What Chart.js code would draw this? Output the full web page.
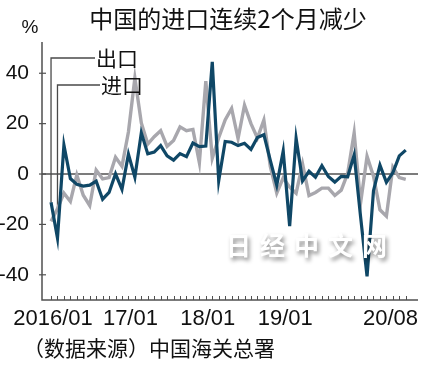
<!DOCTYPE html>
<html><head><meta charset="utf-8">
<script src="https://cdn.jsdelivr.net/npm/chart.js@4/dist/chart.umd.min.js"></script>
<style>html,body{margin:0;padding:0;background:#fff}#wrap{width:430px;height:370px;position:relative}</style>
</head><body><div id="wrap"><canvas id="c" width="430" height="370"></canvas></div>
<script>
const titleText = '中国的进口连续2个月减少';
const unitLabel = '%';
const sourceText = '（数据来源）中国海关总署';
const watermarkText = '日经中文网';
const seriesNames = ['出口', '进口'];

// categories: 2016/01 .. 2020/08
const months = [];
for (let y = 2016; y <= 2020; y++) {
  for (let m = 1; m <= 12; m++) {
    if (y === 2020 && m > 8) break;
    months.push(y + '/' + String(m).padStart(2, '0'));
  }
}

// 出口 (exports) YoY %
const exportsYoY = [
  -11.2, -25.4, 11.5, -1.8, -4.1, -4.8, -4.4, -2.8, -10.0, -7.3, 0.1, -6.1,
  7.9, -1.3, 16.4, 8.0, 8.7, 11.3, 7.2, 5.5, 8.1, 6.9, 12.3, 10.9,
  11.1, 44.5, -2.7, 12.9, 12.6, 11.3, 12.2, 9.8, 14.5, 15.6, 5.4, -4.4,
  9.1, -20.7, 14.2, -2.7, 1.1, -1.3, 3.3, -1.0, -3.2, -0.9, -1.1, 7.6,
  -17.0, -40.6, -6.6, 3.5, -3.3, 0.5, 7.2, 9.5
];
// 进口 (imports) YoY %
const importsYoY = [
  -18.8, -13.8, -7.6, -10.9, -0.4, -8.4, -12.5, 1.5, -1.9, -1.4, 6.7, 3.1,
  16.7, 38.1, 20.3, 11.9, 14.8, 17.2, 11.0, 13.3, 18.7, 17.2, 17.7, 4.5,
  36.9, 6.3, 14.4, 21.5, 26.0, 14.1, 27.3, 20.0, 14.3, 21.4, 3.0, -7.6,
  -1.5, -5.2, -7.6, 4.0, -8.5, -7.3, -5.6, -5.6, -8.5, -6.4, 0.3, 16.3,
  -11.5, 7.0, -0.9, -14.2, -16.7, 2.7, -1.4, -2.1
];

const yTicks = [-40, -20, 0, 20, 40];
const xTickIdx = [0, 12, 24, 36, 55];
const xTickLabels = ['2016/01', '17/01', '18/01', '19/01', '20/08'];

const NAVY = '#0f4766';
const GRAY = '#a8a7ad';
const AXIS = '#505050';
const NARROW = '"Liberation Sans Narrow", "Liberation Sans", Arial, sans-serif';
const CJK = '"Noto Sans CJK SC", "Noto Sans", sans-serif';

const extras = {
  id: 'extras',
  beforeDatasetsDraw(chart) {
    const ctx = chart.ctx;
    const { left, right, top, bottom } = chart.chartArea;
    const xs = chart.scales.x, ys = chart.scales.y;
    ctx.save();
    ctx.strokeStyle = AXIS;
    ctx.lineWidth = 1.5;
    // axes
    ctx.beginPath();
    ctx.moveTo(left, top); ctx.lineTo(left, bottom); ctx.lineTo(right, bottom);
    ctx.stroke();
    // zero line
    const y0 = ys.getPixelForValue(0);
    ctx.beginPath(); ctx.moveTo(left, y0); ctx.lineTo(right, y0); ctx.stroke();
    // y tick marks
    ctx.lineWidth = 1.2;
    yTicks.forEach(v => {
      const py = ys.getPixelForValue(v);
      ctx.beginPath(); ctx.moveTo(left - 3, py); ctx.lineTo(left + 4, py); ctx.stroke();
    });
    // monthly x tick marks
    ctx.lineWidth = 1;
    months.forEach((m, i) => {
      const px = Math.round(xs.getPixelForValue(i)) + 0.5;
      ctx.beginPath(); ctx.moveTo(px, bottom - 4); ctx.lineTo(px, bottom); ctx.stroke();
    });
    // leader lines for labels
    ctx.strokeStyle = '#4a4a4a';
    ctx.lineWidth = 1.3;
    const ex = xs.getPixelForValue(0), ey = ys.getPixelForValue(exportsYoY[0]);
    ctx.beginPath(); ctx.moveTo(ex, ey); ctx.lineTo(ex, top + 16); ctx.lineTo(left + 53, top + 16); ctx.stroke();
    const ix = xs.getPixelForValue(1), iy = ys.getPixelForValue(importsYoY[1]);
    ctx.beginPath(); ctx.moveTo(ix, iy); ctx.lineTo(ix, top + 43); ctx.lineTo(left + 58, top + 43); ctx.stroke();
    ctx.restore();
  },
  afterDraw(chart) {
    const ctx = chart.ctx;
    const { left, right, top, bottom } = chart.chartArea;
    const xs = chart.scales.x;
    ctx.save();
    ctx.fillStyle = '#111';
    ctx.textBaseline = 'middle';
    // title
    ctx.font = '24px ' + CJK;
    ctx.textAlign = 'center';
    ctx.fillText(titleText, 228, 19);
    // unit
    ctx.font = '19px "Liberation Sans", Arial, sans-serif';
    ctx.fillText(unitLabel, 30, 28);
    // series labels
    ctx.font = '21px ' + CJK;
    ctx.textAlign = 'left';
    ctx.fillText(seriesNames[0], left + 54, top + 16);
    ctx.fillText(seriesNames[1], left + 59, top + 43);
    // x tick labels
    ctx.font = '22px ' + NARROW;
    xTickIdx.forEach((idx, k) => {
      const px = xs.getPixelForValue(idx);
      if (k === xTickIdx.length - 1) {
        ctx.textAlign = 'right';
        ctx.fillText(xTickLabels[k], right, bottom + 19);
      } else {
        ctx.textAlign = 'center';
        ctx.fillText(xTickLabels[k], px + 2, bottom + 19);
      }
    });
    // source
    ctx.textAlign = 'left';
    ctx.font = '21px ' + CJK;
    ctx.fillText(sourceText, 23, 348);
    // watermark
    ctx.font = 'bold 25px ' + CJK;
    try { ctx.letterSpacing = '9px'; } catch (e) {}
    ctx.shadowColor = 'rgba(0,0,0,0.45)';
    ctx.shadowBlur = 4;
    ctx.shadowOffsetX = 2;
    ctx.shadowOffsetY = 3;
    ctx.fillStyle = '#ffffff';
    ctx.fillText(watermarkText, 226, 245);
    ctx.restore();
  }
};

new Chart(document.getElementById('c'), {
  type: 'line',
  data: {
    datasets: [
      { label: seriesNames[0], data: exportsYoY.map((v, i) => ({ x: i, y: v })),
        borderColor: NAVY, borderWidth: 3.2, pointRadius: 0, tension: 0, fill: false },
      { label: seriesNames[1], data: importsYoY.map((v, i) => ({ x: i, y: v })),
        borderColor: GRAY, borderWidth: 3.4, pointRadius: 0, tension: 0, fill: false }
    ]
  },
  options: {
    responsive: false,
    animation: false,
    layout: { padding: { left: 0, right: 12, top: 42, bottom: 70 } },
    plugins: { legend: { display: false }, tooltip: { enabled: false }, title: { display: false } },
    scales: {
      x: { type: 'linear', min: -1.4, max: 56.9, display: false },
      y: {
        min: -50, max: 52.4,
        afterFit(s) { s.width = 42; },
        afterBuildTicks(s) { s.ticks = yTicks.map(v => ({ value: v })); },
        grid: { display: false },
        border: { display: false },
        ticks: { padding: 5, color: '#111', font: { family: NARROW, size: 21 } }
      }
    }
  },
  plugins: [extras]
});
</script>
</body></html>
